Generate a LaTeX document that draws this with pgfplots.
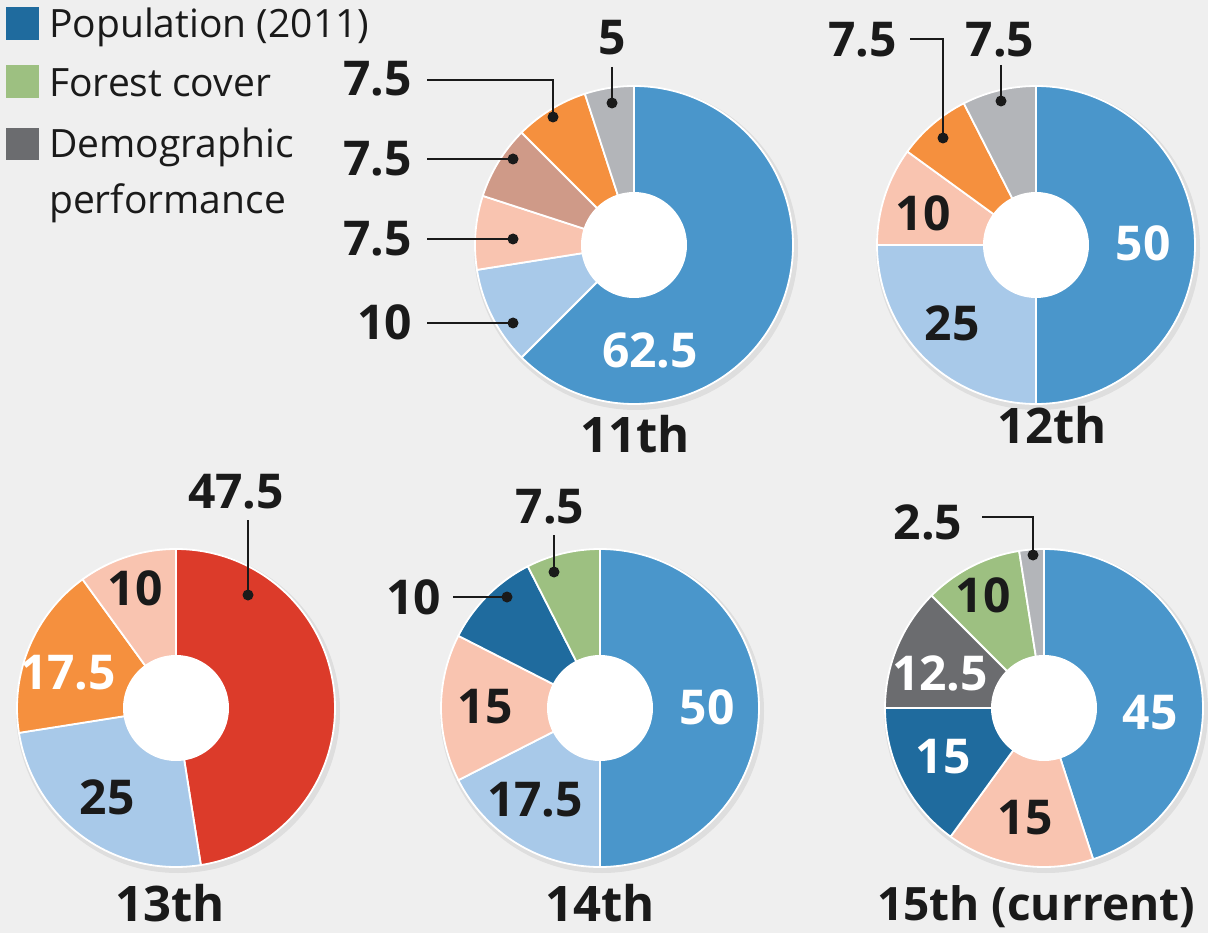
\documentclass[border=0pt]{standalone}
\usepackage{pgfplots}
\pgfplotsset{compat=1.18}
\usetikzlibrary{calc}
\usepackage{fontspec}
\setmainfont{Open Sans}
\definecolor{bg}{HTML}{EFEFEF}
\definecolor{cBlue}{HTML}{4A96CB}
\definecolor{cLBlue}{HTML}{A8C9E9}
\definecolor{cPink}{HTML}{F9C4B0}
\definecolor{cRose}{HTML}{CF9A88}
\definecolor{cOrange}{HTML}{F5903E}
\definecolor{cGrey}{HTML}{B3B5B9}
\definecolor{cRed}{HTML}{DC3B2A}
\definecolor{cDBlue}{HTML}{1F6B9E}
\definecolor{cGreen}{HTML}{9DC081}
\definecolor{cDGrey}{HTML}{6B6C6F}
\definecolor{txt}{HTML}{1A1A1A}
\newcommand\lbl{\fontsize{48}{50}\selectfont\bfseries}
\newcommand\ttl{\fontsize{49}{52}\selectfont\bfseries}
\newcommand\leg{\fontsize{39}{46}\selectfont}
% donut: centre x, centre y (pixels from top), list of value/colour, clockwise from top
\newcommand\donut[3]{%
  \edef\temp{\noexpand\fill[black,opacity=0.07] ($(axis cs:#1,#2)+(2pt,-3pt)$) circle[radius=162pt];}\temp
  \gdef\cum{0}%
  \foreach \v/\c in {#3}{%
    \pgfmathsetmacro\a{90-3.6*\cum}%
    \pgfmathsetmacro\b{90-3.6*(\cum+\v)}%
    \edef\temp{\noexpand\fill[\c, draw=white, line width=1.8pt, line join=round]
      (axis cs:#1,#2) -- ($(axis cs:#1,#2)+(\a:159pt)$)
      arc[start angle=\a, end angle=\b, radius=159pt] -- cycle;}%
    \temp
    \pgfmathsetmacro\nc{\cum+\v}%
    \xdef\cum{\nc}%
  }%
  \edef\temp{\noexpand\fill[white] (axis cs:#1,#2) circle[radius=53pt];}\temp
}
\newcommand\lab[3][txt]{\node[font=\lbl, text=#1, inner sep=0pt] at (axis cs:#2) {#3};}
\newcommand\ldot[1]{\fill[txt] (axis cs:#1) circle[radius=5.5pt];}
\begin{document}
\begin{tikzpicture}
\begin{axis}[scale only axis, width=1208pt, height=933pt,
  xmin=0, xmax=1208, ymin=0, ymax=933, y dir=reverse,
  hide axis, clip=false]
\fill[bg] (axis cs:0,0) rectangle (axis cs:1208,933);
% legend
\fill[cDBlue] (axis cs:6,7) rectangle (axis cs:39,40);
\fill[cGreen] (axis cs:6,65) rectangle (axis cs:39,98);
\fill[cDGrey] (axis cs:6,128) rectangle (axis cs:39,160);
\node[font=\leg, text=txt, anchor=base west, inner sep=0pt] at (axis cs:49,38) {Population (2011)};
\node[font=\leg, text=txt, anchor=base west, inner sep=0pt] at (axis cs:49,97) {Forest cover};
\node[font=\leg, text=txt, anchor=base west, inner sep=0pt] at (axis cs:49,158) {Demographic};
\node[font=\leg, text=txt, anchor=base west, inner sep=0pt] at (axis cs:49,214) {performance};
% 11th
\donut{634}{245}{62.5/cBlue, 10/cLBlue, 7.5/cPink, 7.5/cRose, 7.5/cOrange, 5/cGrey}
\lab[white]{650,350}{62.5}
\node[font=\lbl, text=txt, anchor=east, inner sep=0pt] at (axis cs:412,79) {7.5};
\node[font=\lbl, text=txt, anchor=east, inner sep=0pt] at (axis cs:412,159) {7.5};
\node[font=\lbl, text=txt, anchor=east, inner sep=0pt] at (axis cs:412,239) {7.5};
\node[font=\lbl, text=txt, anchor=east, inner sep=0pt] at (axis cs:412,322) {10};
\lab{612,38}{5}
\draw[txt, line width=1.6pt] (axis cs:612,67) -- (axis cs:612,103);
\ldot{612,103}
\draw[txt, line width=1.6pt] (axis cs:427,80) -- (axis cs:553,80) -- (axis cs:553,117);
\ldot{553,117}
\draw[txt, line width=1.6pt] (axis cs:427,159) -- (axis cs:513,159);
\ldot{513,159}
\draw[txt, line width=1.6pt] (axis cs:427,239) -- (axis cs:513,239);
\ldot{513,239}
\draw[txt, line width=1.6pt] (axis cs:427,323) -- (axis cs:513,323);
\ldot{513,323}
\node[font=\ttl, text=txt, anchor=base, inner sep=0pt] at (axis cs:635,452) {11th};
% 12th
\donut{1036}{245}{50/cBlue, 25/cLBlue, 10/cPink, 7.5/cOrange, 7.5/cGrey}
\lab[white]{1143,243}{50}
\lab{923,213}{10}
\lab{952,323}{25}
\node[font=\lbl, text=txt, anchor=east, inner sep=0pt] at (axis cs:897,40) {7.5};
\draw[txt, line width=1.6pt] (axis cs:910,39) -- (axis cs:943,39) -- (axis cs:943,138);
\ldot{943,138}
\lab{1000,40}{7.5}
\draw[txt, line width=1.6pt] (axis cs:1001,65) -- (axis cs:1001,101);
\ldot{1001,101}
\node[font=\ttl, text=txt, anchor=base, inner sep=0pt] at (axis cs:1052,443) {12th};
% 13th
\donut{176}{708}{47.5/cRed, 25/cLBlue, 17.5/cOrange, 10/cPink}
\lab{236,492}{47.5}
\draw[txt, line width=1.6pt] (axis cs:248,520) -- (axis cs:248,595);
\ldot{248,595}
\lab{135,588}{10}
\lab[white]{68,673}{17.5}
\lab{107,797}{25}
\node[font=\ttl, text=txt, anchor=base, inner sep=0pt] at (axis cs:170,921) {13th};
% 14th
\donut{600}{708}{50/cBlue, 17.5/cLBlue, 15/cPink, 10/cDBlue, 7.5/cGreen}
\lab{550,507}{7.5}
\draw[txt, line width=1.6pt] (axis cs:554,535) -- (axis cs:554,572);
\ldot{554,572}
\node[font=\lbl, text=txt, anchor=east, inner sep=0pt] at (axis cs:441,597) {10};
\draw[txt, line width=1.6pt] (axis cs:453,597) -- (axis cs:507,597);
\ldot{507,597}
\lab{485,707}{15}
\lab{535,800}{17.5}
\lab[white]{707,707}{50}
\node[font=\ttl, text=txt, anchor=base, inner sep=0pt] at (axis cs:600,921) {14th};
% 15th
\donut{1044}{708}{45/cBlue, 15/cPink, 15/cDBlue, 12.5/cDGrey, 10/cGreen, 2.5/cGrey}
\lab{928,522}{2.5}
\draw[txt, line width=1.6pt] (axis cs:982,517) -- (axis cs:1033,517) -- (axis cs:1033,555);
\ldot{1033,555}
\lab{983,595}{10}
\lab[white]{940,673}{12.5}
\lab[white]{943,757}{15}
\lab{1025,818}{15}
\lab[white]{1150,713}{45}
\node[font=\fontsize{46}{50}\selectfont\bfseries, text=txt, anchor=base, inner sep=0pt] at (axis cs:1036,920) {15th (current)};
\end{axis}
\end{tikzpicture}
\end{document}
